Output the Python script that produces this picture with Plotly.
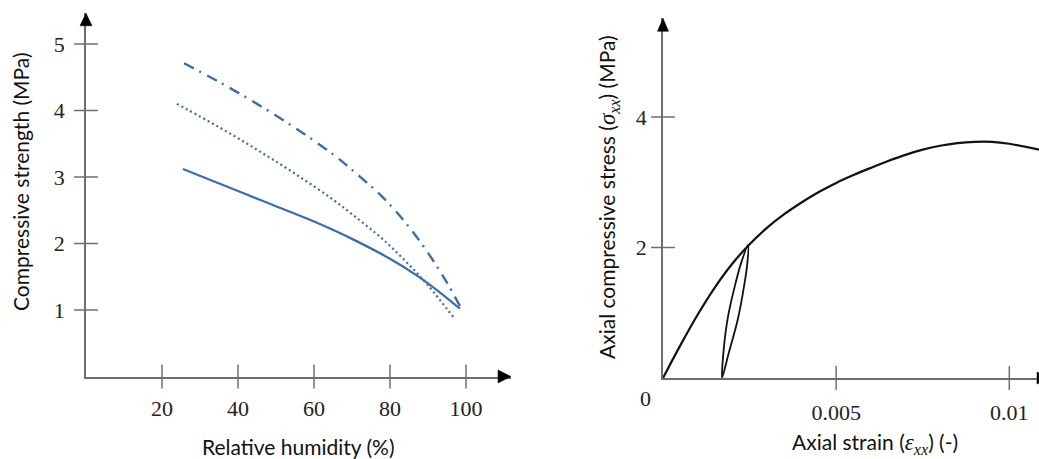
import plotly.graph_objects as go

# ---------------- data ----------------
rh_solid = [25.5, 40, 50, 60, 70, 80, 87, 93, 98.4]
fc_solid = [3.12, 2.79, 2.56, 2.33, 2.07, 1.77, 1.52, 1.27, 1.02]

rh_dot = [23.9, 35, 45, 55, 65, 72, 78, 84, 90, 96.7]
fc_dot = [4.10, 3.75, 3.41, 3.05, 2.66, 2.35, 2.07, 1.74, 1.37, 0.89]

rh_dashdot = [25.8, 35, 45, 55, 65, 72, 78, 84, 90, 95, 98.4]
fc_dashdot = [4.71, 4.43, 4.10, 3.74, 3.34, 3.01, 2.70, 2.32, 1.86, 1.41, 1.06]

strain_main = [0, 0.0005, 0.001, 0.0015, 0.002, 0.0025, 0.003, 0.0035, 0.004, 0.0045, 0.005,
               0.0055, 0.006, 0.0065, 0.007, 0.0075, 0.008, 0.0085, 0.009, 0.0095, 0.010, 0.01086]
stress_main = [0, 0.50, 0.97, 1.39, 1.75, 2.05, 2.30, 2.51, 2.69, 2.85, 2.99,
               3.11, 3.22, 3.325, 3.42, 3.50, 3.56, 3.60, 3.62, 3.62, 3.59, 3.50]

strain_loop = [0.00246, 0.002252, 0.00207, 0.001877, 0.001761, 0.001704,
               0.001896, 0.002156, 0.002339, 0.002435, 0.00246]
stress_loop = [2.04, 1.757, 1.40, 0.94, 0.48, 0.0,
               0.378, 0.889, 1.40, 1.757, 2.04]

left_xticks = [20, 40, 60, 80, 100]
left_yticks = [1, 2, 3, 4, 5]
right_xticks = [0.005, 0.01]
right_xticklabels = ["0.005", "0.01"]
right_yticks = [2, 4]

# ---------------- styling ----------------
W, H = 1039, 459
BLUE = "#3e6ea5"
AX = "#6e6e6e"
SERIF = "Liberation Serif, Times New Roman, serif"
SANS = "Lato"

# pixel geometry
L_x0, L_x1 = 86, 511
L_y0, L_y1 = 376.5, 13.3
R_x0, R_x1 = 663, 1039
R_y0, R_y1 = 378, 18.3

fig = go.Figure()

# left chart curves
fig.add_trace(go.Scatter(x=rh_solid, y=fc_solid, mode="lines", line=dict(color=BLUE, width=2.3, shape="spline", smoothing=1.0),
                         xaxis="x", yaxis="y", hoverinfo="skip", cliponaxis=False))
fig.add_trace(go.Scatter(x=rh_dot, y=fc_dot, mode="lines", line=dict(color=BLUE, width=2.2, dash="2px,3px", shape="spline", smoothing=1.0),
                         xaxis="x", yaxis="y", hoverinfo="skip", cliponaxis=False))
fig.add_trace(go.Scatter(x=rh_dashdot, y=fc_dashdot, mode="lines",
                         line=dict(color=BLUE, width=2.4, dash="11px,6px,2px,7px", shape="spline", smoothing=1.0),
                         xaxis="x", yaxis="y", hoverinfo="skip", cliponaxis=False))

# right chart curves
fig.add_trace(go.Scatter(x=strain_main, y=stress_main, mode="lines", line=dict(color="#111111", width=2.2, shape="spline", smoothing=1.0),
                         xaxis="x2", yaxis="y2", hoverinfo="skip", cliponaxis=False))
fig.add_trace(go.Scatter(x=strain_loop, y=stress_loop, mode="lines", line=dict(color="#111111", width=1.8, shape="spline", smoothing=0.8),
                         xaxis="x2", yaxis="y2", hoverinfo="skip", cliponaxis=False))

# crossing tick marks
def tickmarks(xs, ys, sym, xa, ya):
    fig.add_trace(go.Scatter(x=xs, y=ys, mode="markers", xaxis=xa, yaxis=ya, hoverinfo="skip", cliponaxis=False,
                             marker=dict(symbol=sym, size=17, line=dict(color=AX, width=1.5))))

tickmarks(left_xticks, [0] * len(left_xticks), "line-ns", "x", "y")
tickmarks([0] * len(left_yticks), left_yticks, "line-ew", "x", "y")
tickmarks(right_xticks, [0] * len(right_xticks), "line-ns", "x2", "y2")
tickmarks([0] * len(right_yticks), right_yticks, "line-ew", "x2", "y2")

tickfont = dict(family=SERIF, size=22, color="#222222")
common = dict(showgrid=False, zeroline=False, showline=True, linecolor=AX, linewidth=1.5, ticks="",
              tickfont=tickfont, fixedrange=True)

fig.update_layout(
    width=W, height=H, margin=dict(l=0, r=0, t=0, b=0),
    paper_bgcolor="white", plot_bgcolor="white", showlegend=False,
    xaxis=dict(domain=[L_x0 / W, L_x1 / W], range=[0, (L_x1 - L_x0) / 3.8], anchor="y",
               tickvals=left_xticks, ticklabelstandoff=11, **common),
    yaxis=dict(domain=[(H - L_y0) / H, (H - L_y1) / H], range=[0, (L_y0 - L_y1) / 66.5], anchor="x",
               tickvals=left_yticks, ticklabelstandoff=15, **common),
    xaxis2=dict(domain=[R_x0 / W, R_x1 / W], range=[0, (R_x1 - R_x0) / 34630], anchor="y2",
                tickvals=right_xticks, ticktext=right_xticklabels, ticklabelstandoff=14, **common),
    yaxis2=dict(domain=[(H - R_y0) / H, (H - R_y1) / H], range=[0, (R_y0 - R_y1) / 65.25], anchor="x2",
                tickvals=right_yticks, ticklabelstandoff=10, **common),
)

# arrowheads
def arrow(px, py, path):
    fig.add_shape(type="path", xref="paper", yref="paper", xsizemode="pixel", ysizemode="pixel",
                  xanchor=px / W, yanchor=(H - py) / H, path=path,
                  fillcolor="black", line=dict(color="black", width=0.5), layer="above")

arrow(L_x0, L_y1, "M 0,0 L -6,-12.5 L 6,-12.5 Z")
arrow(L_x1, L_y0, "M 0,0 L -13,-6.5 L -13,6.5 Z")
arrow(R_x0, R_y1, "M 0,0 L -5.5,-13 L 5.5,-13 Z")
arrow(R_x1 + 11, R_y0, "M 0,0 L -13,-6 L -13,6 Z")

# titles
titlefont = dict(family=SANS, size=21, color="#111111")
def label(text, px, py, angle=0, font=titlefont):
    fig.add_annotation(text=text, x=px / W, y=(H - py) / H, xref="paper", yref="paper",
                       showarrow=False, textangle=angle, font=font, xanchor="center", yanchor="middle")

MATH = "<span style='font-family:Liberation Serif;font-size:23px'><i>{}</i></span>"
label("Compressive strength (MPa)", 20, 182, -90)
label("Relative humidity (%)", 298, 446)
label("Axial compressive stress (" + MATH.format("σ<sub>xx</sub>") + ") (MPa)", 608, 197, -90)
label("Axial strain (" + MATH.format("ε<sub>xx</sub>") + ") (-)", 875, 443)
label("0", 645, 398, 0, tickfont)

fig.write_html("out.html", config={"displayModeBar": False},
               post_script="document.body.style.margin='0px';document.body.style.padding='0px';")
